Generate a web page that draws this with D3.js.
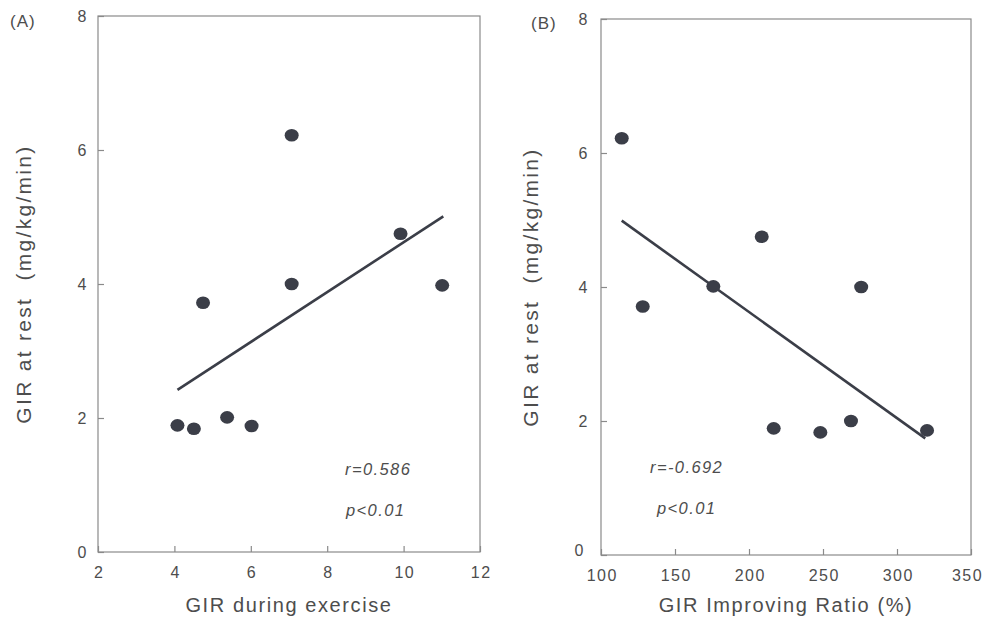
<!DOCTYPE html>
<html><head><meta charset="utf-8">
<script src="https://cdn.jsdelivr.net/npm/d3@7"></script>
<style>
html,body{margin:0;padding:0;background:#fff;}
svg{display:block;font-family:"Liberation Sans",Arial,sans-serif;}
</style></head>
<body><svg id="c" width="984" height="622"></svg>
<script>
// Panel A data: GIR during exercise vs GIR at rest
const exerciseGIR = [4.08, 4.51, 4.75, 5.38, 6.02, 7.07, 7.07, 9.92, 11.01];
const restGIR_A   = [1.89, 1.84, 3.72, 2.01, 1.88, 6.22, 4.00, 4.75, 3.98];
const fitA = [[4.08, 2.42], [11.04, 5.01]];
// Panel B data: GIR improving ratio vs GIR at rest
const improvingRatio = [114.0, 128.2, 175.9, 208.6, 216.7, 248.2, 268.9, 275.8, 320.3];
const restGIR_B      = [6.22, 3.71, 4.01, 4.75, 1.89, 1.83, 2.00, 4.00, 1.86];
const fitB = [[114.0, 4.99], [319.1, 1.74]];
// Axis ticks
const xTicksA = [2, 4, 6, 8, 10, 12];
const xTicksB = [100, 150, 200, 250, 300, 350];
const yTicks = [0, 2, 4, 6, 8];

const svg = d3.select("#c");
const ink = "#3b3e48", txt = "#4d4d4d", frame = "#8a8a8a";

function panel(o) {
  const x = d3.scaleLinear().domain(o.xd).range([o.l, o.r]);
  const y = d3.scaleLinear().domain([0, 8]).range([o.b, o.t]);
  const g = svg.append("g");
  g.append("rect").attr("x", o.l).attr("y", o.t).attr("width", o.r - o.l).attr("height", o.b - o.t)
    .attr("fill", "none").attr("stroke", frame).attr("stroke-width", 1.2);
  const xa = g.append("g").attr("transform", `translate(0,${o.b})`)
    .call(d3.axisBottom(x).tickValues(o.xt).tickSizeInner(-6).tickSizeOuter(0).tickPadding(15));
  const ya = g.append("g").attr("transform", `translate(${o.l},0)`)
    .call(d3.axisLeft(y).tickValues(yTicks).tickSizeInner(-6).tickSizeOuter(0).tickPadding(o.yPad));
  [xa, ya].forEach(a => {
    a.select(".domain").remove();
    a.selectAll("line").attr("stroke", frame).attr("stroke-width", 1.2);
    a.selectAll("text").attr("fill", txt).attr("font-size", 16)
      .style("font-family", '"Liberation Sans",Arial,sans-serif').style("letter-spacing", "1.5px");
  });
  xa.selectAll("text").attr("dx", 0.75);
  if (o.lastShift) {
    xa.selectAll(".tick").filter(d => d === o.xt[o.xt.length - 1]).select("text").attr("dx", o.lastShift);
  }
  if (o.zeroShift) {
    ya.selectAll(".tick").filter(d => d === 0).select("text").attr("dx", -4).attr("dy", "0.05em");
  }
  g.append("line")
    .attr("x1", x(o.fit[0][0])).attr("y1", y(o.fit[0][1]))
    .attr("x2", x(o.fit[1][0])).attr("y2", y(o.fit[1][1]))
    .attr("stroke", ink).attr("stroke-width", 2.6);
  g.selectAll("ellipse").data(o.xs.map((v, i) => [v, o.ys[i]])).join("ellipse")
    .attr("cx", d => x(d[0])).attr("cy", d => y(d[1])).attr("rx", 7).attr("ry", 6.3).attr("fill", ink);
  g.append("text").attr("x", o.tag[0]).attr("y", o.tag[1]).attr("fill", txt).attr("font-size", 17)
    .style("letter-spacing", "1px").text(o.tagText);
  g.append("text").attr("transform", `translate(${o.ytx},${(o.t + o.b) / 2}) rotate(-90)`)
    .attr("text-anchor", "middle").attr("fill", txt).attr("font-size", 21)
    .style("letter-spacing", "2.3px").style("white-space", "pre")
    .attr("xml:space", "preserve").text("GIR at rest  (mg/kg/min)");
  g.append("text").attr("x", (o.l + o.r) / 2).attr("y", 612).attr("text-anchor", "middle")
    .attr("fill", txt).attr("font-size", 20).style("letter-spacing", "1.6px").text(o.xTitle);
  g.append("text").attr("x", o.ann[0]).attr("y", o.ann[1]).attr("fill", txt).attr("font-size", 16.5)
    .attr("font-style", "italic").style("letter-spacing", "1.4px").text(o.r1);
  g.append("text").attr("x", o.ann2[0]).attr("y", o.ann2[1]).attr("fill", txt).attr("font-size", 16.5)
    .attr("font-style", "italic").style("letter-spacing", "1.4px").text("p<0.01");
}

panel({xd: [2, 12], xt: xTicksA, l: 98, r: 480, t: 16, b: 552, xs: exerciseGIR, ys: restGIR_A, fit: fitA,
  tag: [10, 27], tagText: "(A)", ytx: 31, xTitle: "GIR during exercise", yPad: 10,
  ann: [345, 475], ann2: [346, 516], r1: "r=0.586"});
panel({xd: [100, 350], xt: xTicksB, l: 601, r: 971, t: 19, b: 555, xs: improvingRatio, ys: restGIR_B, fit: fitB,
  tag: [531, 29], tagText: "(B)", ytx: 538, xTitle: "GIR Improving Ratio (%)", yPad: 12, lastShift: -4,
  ann: [650, 473], ann2: [657, 514], r1: "r=-0.692", zeroShift: true});
</script></body></html>
